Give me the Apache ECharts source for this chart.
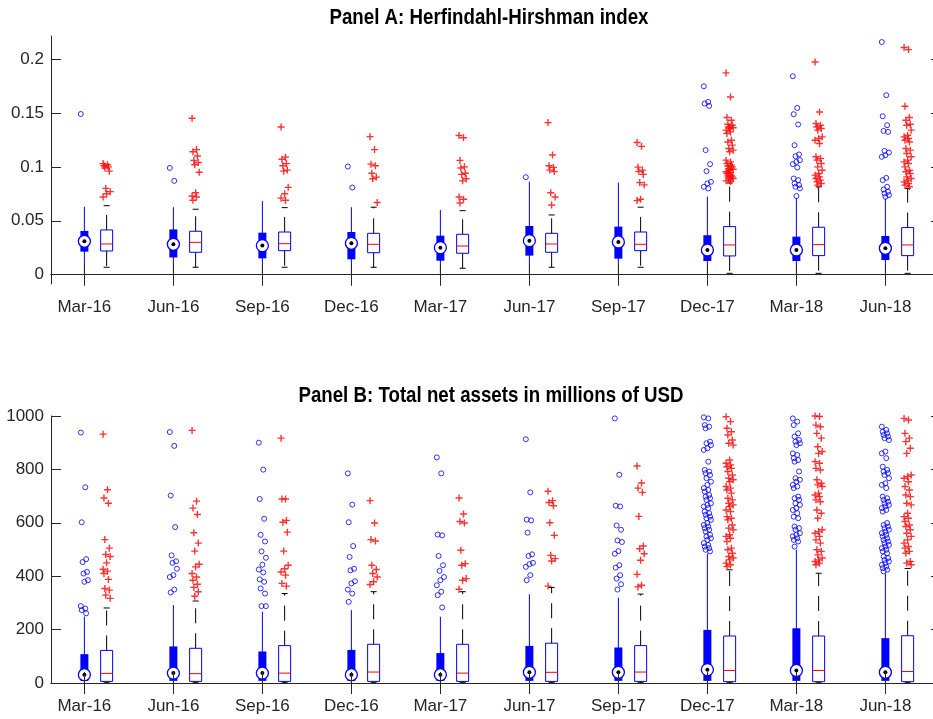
<!DOCTYPE html>
<html>
<head>
<meta charset="utf-8">
<script src="https://cdn.jsdelivr.net/npm/echarts@6.0.0/dist/echarts.min.js"></script>
<style>
  html, body { margin: 0; padding: 0; background: #fff; }
  #chart { width: 933px; height: 719px; }
</style>
</head>
<body>
<div id="chart"></div>
<script>
// Quarter labels shared by both panels
const categories = ['Mar-16', 'Jun-16', 'Sep-16', 'Dec-16', 'Mar-17', 'Jun-17', 'Sep-17', 'Dec-17', 'Mar-18', 'Jun-18'];

// Tick values
const hhiTicks = [0, 0.05, 0.1, 0.15, 0.2];
const tnaTicks = [0, 200, 400, 600, 800, 1000];

// ---- Panel A: Herfindahl-Hirshman index ----
// compact (filled) boxes
const hhiBlueLow  = [0.001, 0.001, 0.001, 0.001, 0.001, 0.001, 0.001, 0.001, 0.001, 0.001];
const hhiBlueQ1   = [0.0214, 0.0160, 0.0152, 0.0143, 0.0130, 0.0177, 0.0149, 0.0127, 0.0127, 0.0136];
const hhiBlueMed  = [0.0310, 0.0282, 0.0270, 0.0291, 0.0251, 0.0316, 0.0304, 0.0229, 0.0229, 0.0245];
const hhiBlueQ3   = [0.0406, 0.0420, 0.0390, 0.0396, 0.0362, 0.0452, 0.0446, 0.0366, 0.0353, 0.0359];
const hhiBlueHigh = [0.0630, 0.0626, 0.0684, 0.0626, 0.0600, 0.0863, 0.0854, 0.0724, 0.0710, 0.0705];
const hhiBlueOut = [
  [0.149],
  [0.099, 0.087],
  [],
  [0.1003, 0.0808],
  [],
  [0.0904],
  [],
  [0.1747, 0.1602, 0.1587, 0.1565, 0.1155, 0.1025, 0.0960, 0.0861, 0.0846, 0.0815, 0.0800],
  [0.1840, 0.1546, 0.1488, 0.1393, 0.1201, 0.1115, 0.1099, 0.1062, 0.1046, 0.1025, 0.0994, 0.0892, 0.0877, 0.0846, 0.0831, 0.0815, 0.0800, 0.0729],
  [0.2157, 0.1664, 0.1469, 0.1386, 0.1333, 0.1324, 0.1148, 0.1133, 0.1108, 0.1093, 0.0898, 0.0877, 0.0815, 0.0790, 0.0769, 0.0753, 0.0738, 0.0722]
];
// outlined boxes
const hhiRedLow  = [0.0069, 0.0069, 0.0069, 0.0069, 0.0060, 0.0069, 0.0069, 0.0013, 0.0013, 0.0013];
const hhiRedQ1   = [0.0220, 0.0208, 0.0223, 0.0204, 0.0199, 0.0208, 0.0223, 0.0174, 0.0177, 0.0177];
const hhiRedMed  = [0.0285, 0.0300, 0.0288, 0.0282, 0.0266, 0.0285, 0.0282, 0.0276, 0.0279, 0.0276];
const hhiRedQ3   = [0.0415, 0.0403, 0.0396, 0.0384, 0.0375, 0.0384, 0.0396, 0.0446, 0.0440, 0.0437];
const hhiRedHigh = [0.0640, 0.0607, 0.0622, 0.0626, 0.0594, 0.0554, 0.0626, 0.0850, 0.0815, 0.0800];
const hhiRedOut = [
  [0.103, 0.102, 0.101, 0.100, 0.099, 0.096, 0.080, 0.077, 0.075, 0.072],
  [0.145, 0.116, 0.114, 0.110, 0.106, 0.104, 0.102, 0.095, 0.076, 0.073, 0.072, 0.069],
  [0.137, 0.109, 0.107, 0.103, 0.101, 0.097, 0.096, 0.081, 0.075, 0.071, 0.069],
  [0.128, 0.116, 0.1025, 0.101, 0.094, 0.0905, 0.089, 0.067],
  [0.129, 0.127, 0.106, 0.100, 0.099, 0.094, 0.093, 0.089, 0.087, 0.072, 0.070, 0.0665],
  [0.141, 0.111, 0.101, 0.0995, 0.097, 0.0956, 0.076, 0.072, 0.0647],
  [0.1226, 0.119, 0.0997, 0.097, 0.0956, 0.093, 0.0854, 0.0833, 0.070, 0.0687],
  [0.1871, 0.1648, 0.1457, 0.1432, 0.1395, 0.1386, 0.1370, 0.1362, 0.1355, 0.1340, 0.1324, 0.1309, 0.1247, 0.1231, 0.1201, 0.1170, 0.1155, 0.1140,
   0.1062, 0.1046, 0.1031, 0.1016, 0.1008, 0.1000, 0.0985, 0.0978, 0.0969, 0.0954, 0.0946, 0.0939, 0.0923, 0.0915, 0.0907, 0.0898, 0.0892, 0.0877, 0.0870, 0.0861],
  [0.1972, 0.1509, 0.1402, 0.1386, 0.1370, 0.1355, 0.1340, 0.1278, 0.1263, 0.1247, 0.1216, 0.1093, 0.1078, 0.1062, 0.1031, 0.1000, 0.0969, 0.0939, 0.0923, 0.0907, 0.0892, 0.0877, 0.0861, 0.0846, 0.0831],
  [0.2106, 0.2087, 0.1562, 0.1457, 0.1432, 0.1395, 0.1386, 0.1340, 0.1293, 0.1278, 0.1263, 0.1247, 0.1231, 0.1170, 0.1155, 0.1124, 0.1093, 0.1062, 0.1046, 0.1031, 0.1000, 0.0969, 0.0954, 0.0939, 0.0907, 0.0892, 0.0877, 0.0861, 0.0846, 0.0831, 0.0815]
];

// ---- Panel B: Total net assets (millions of USD) ----
const tnaBlueLow  = [1, 1, 1, 1, 1, 1, 1, 1, 1, 1];
const tnaBlueQ1   = [8, 8, 8, 8, 8, 8, 8, 8, 8, 8];
const tnaBlueMed  = [31, 37, 37, 31, 31, 40, 40, 50, 47, 40];
const tnaBlueQ3   = [108, 137, 118, 124, 112, 139, 133, 199, 205, 168];
const tnaBlueHigh = [249, 292, 267, 273, 248, 332, 320, 485, 499, 410];
const tnaBlueOut = [
  [938, 733, 602, 464, 453, 416, 410, 385, 379, 288, 279, 273, 261],
  [940, 888, 702, 584, 478, 456, 450, 428, 404, 397, 350, 339],
  [900, 799, 689, 615, 555, 530, 493, 469, 443, 425, 414, 388, 379, 354, 335, 288, 288],
  [785, 668, 602, 513, 472, 428, 422, 381, 373, 350, 335, 304],
  [845, 785, 556, 553, 476, 441, 420, 397, 385, 366, 342, 329, 283],
  [913, 714, 612, 609, 563, 482, 476, 450, 445, 435, 404, 385],
  [991, 780, 664, 661, 590, 574, 534, 528, 494, 484, 441, 432, 404, 391, 370, 350],
  [995, 991, 966, 960, 954, 904, 898, 891, 879, 873, 829, 798, 792, 786, 779, 767, 754, 742, 730, 723, 717, 704, 698, 692, 686, 673,
   667, 661, 655, 642, 636, 630, 623, 617, 611, 599, 592, 586, 580, 574, 567, 555, 549, 542, 536, 524, 517, 511, 505, 499, 493],
  [991, 979, 966, 935, 923, 910, 904, 898, 891, 860, 854, 842, 835, 829, 792, 767, 761, 754, 742, 736, 730, 698, 692, 686, 673, 667,
   655, 648, 636, 623, 617, 586, 580, 574, 561, 555, 549, 542, 536, 530, 511],
  [960, 948, 941, 935, 929, 923, 917, 910, 867, 860, 842, 810, 798, 792, 786, 779, 767, 748, 742, 730, 698, 692, 686, 679, 673, 667,
   661, 655, 648, 642, 599, 592, 586, 580, 574, 567, 561, 555, 549, 542, 536, 530, 524, 517, 511, 505, 499, 493, 486, 474, 468, 461,
   455, 449, 443, 436, 430, 424, 418]
];
const tnaRedLow  = [1, 1, 1, 1, 1, 1, 1, 1, 1, 1];
const tnaRedQ1   = [6, 6, 6, 6, 6, 6, 6, 5, 5, 5];
const tnaRedMed  = [36, 35, 37, 41, 37, 40, 41, 47, 47, 43];
const tnaRedQ3   = [122, 130, 140, 145, 145, 149, 140, 176, 176, 177];
const tnaRedHigh = [281, 307, 335, 342, 342, 358, 333, 424, 411, 429];
const tnaRedOut = [
  [932, 724, 693, 673, 537, 505, 481, 474, 450, 426, 419, 410, 388, 354, 348, 329, 317],
  [946, 681, 655, 631, 563, 524, 494, 445, 435, 410, 397, 385, 370, 358, 342, 325],
  [917, 689, 689, 609, 602, 565, 494, 441, 428, 416, 404, 373, 363],
  [683, 599, 537, 532, 441, 425, 410, 397, 379, 369],
  [693, 633, 605, 599, 497, 447, 441, 391, 385, 351],
  [718, 683, 676, 664, 600, 553, 478, 466, 457, 363],
  [813, 749, 730, 714, 624, 513, 503, 484, 460, 407, 366, 360],
  [997, 979, 954, 941, 929, 910, 898, 891, 835, 823, 817, 810, 804, 792, 779, 767, 761, 754, 736, 730, 723, 711, 692, 686, 673, 667,
   661, 648, 642, 623, 617, 611, 592, 580, 574, 555, 549, 542, 530, 505, 499, 486, 474, 468, 461, 449, 443, 436],
  [1000, 998, 966, 960, 935, 917, 885, 867, 860, 829, 823, 804, 798, 761, 748, 742, 736, 711, 704, 698, 686, 679, 648, 636, 617, 574,
   567, 561, 549, 536, 524, 499, 493, 480, 468, 461, 455, 449, 443],
  [991, 985, 935, 917, 904, 879, 860, 779, 773, 767, 754, 736, 723, 704, 698, 673, 667, 636, 623, 617, 605, 592, 586, 574, 561, 549,
   536, 524, 511, 505, 493, 486, 455, 449, 443]
];

// ---- styling ----
const BLUE = '#0000ff';
const RED = '#ff0000';
const AXIS = '#262626';
const FONT = "'Liberation Sans', Arial, Helvetica, sans-serif";
const SHIFT = 0.25;          // horizontal offset of the outlined box in each pair
const TITLE_SQUEEZE = 0.85;  // titles are set in a slightly condensed face

// small deterministic spread of outlier markers around their box
const jitter = k => (((k * 5) % 9) - 4) * 0.01;

function boxRows(lo, q1, med, q3, hi, shift) {
  return categories.map((c, i) => [i + 1 + shift, lo[i], q1[i], med[i], q3[i], hi[i]]);
}
function outlierPoints(lists, shift) {
  const pts = [];
  lists.forEach((arr, i) => arr.forEach((v, k) => pts.push([i + 1 + shift + jitter(k), v])));
  return pts;
}

function pick(api) {
  const x = api.value(0);
  const y = k => api.coord([x, api.value(k)])[1];
  return { cx: api.coord([x, api.value(3)])[0], lo: y(1), q1: y(2), med: y(3), q3: y(4), hi: y(5) };
}

// compact style: thin whisker, thick box, circled median
function renderCompact(params, api) {
  const p = pick(api);
  return {
    type: 'group',
    children: [
      { type: 'line', shape: { x1: p.cx, y1: p.lo, x2: p.cx, y2: p.hi }, style: { stroke: BLUE, lineWidth: 1 } },
      { type: 'rect', shape: { x: p.cx - 4, y: p.q3, width: 8, height: p.q1 - p.q3 }, style: { fill: BLUE } },
      { type: 'circle', shape: { cx: p.cx, cy: p.med, r: 6 }, style: { fill: '#fff', stroke: BLUE, lineWidth: 1.3 } },
      { type: 'circle', shape: { cx: p.cx, cy: p.med, r: 2 }, style: { fill: '#000' } }
    ]
  };
}

// outlined style: open box, red median, dashed whiskers with caps
function renderClassic(params, api) {
  const p = pick(api);
  const w = 6, c = 3;
  return {
    type: 'group',
    children: [
      { type: 'line', shape: { x1: p.cx, y1: p.q3, x2: p.cx, y2: p.hi }, style: { stroke: '#000', lineWidth: 1, lineDash: [15, 10] } },
      { type: 'line', shape: { x1: p.cx, y1: p.q1, x2: p.cx, y2: p.lo }, style: { stroke: '#000', lineWidth: 1, lineDash: [15, 10] } },
      { type: 'line', shape: { x1: p.cx - c, y1: p.hi, x2: p.cx + c, y2: p.hi }, style: { stroke: '#000', lineWidth: 1 } },
      { type: 'line', shape: { x1: p.cx - c, y1: p.lo, x2: p.cx + c, y2: p.lo }, style: { stroke: '#000', lineWidth: 1 } },
      { type: 'rect', shape: { x: p.cx - w, y: p.q3, width: 2 * w, height: p.q1 - p.q3 }, style: { fill: 'none', stroke: BLUE, lineWidth: 1 } },
      { type: 'line', shape: { x1: p.cx - w, y1: p.med, x2: p.cx + w, y2: p.med }, style: { stroke: RED, lineWidth: 1 } }
    ]
  };
}

const PLUS = 'path://M0,4H10V6H0ZM4,0H6V10H4Z';

function xAxisPair(gridIndex) {
  const common = {
    type: 'value', gridIndex, min: 0.625, max: 10.625, z: 3,
    splitLine: { show: false },
    axisLine: { show: true, lineStyle: { color: AXIS, width: 1 } },
    axisTick: { show: true, inside: true, length: 11, lineStyle: { color: AXIS, width: 1 }, customValues: categories.map((c, i) => i + 1) }
  };
  return [
    Object.assign({}, common, {
      position: 'bottom',
      axisLabel: {
        show: true, margin: 15, color: AXIS, fontFamily: FONT, fontSize: 17,
        customValues: categories.map((c, i) => i + 1),
        formatter: v => categories[Math.round(v) - 1]
      }
    }),
    Object.assign({}, common, { position: 'top', axisLabel: { show: false } })
  ];
}

function yAxisPair(gridIndex, min, max, ticks) {
  const common = {
    type: 'value', gridIndex, min, max, z: 3,
    splitLine: { show: false },
    axisLine: { show: true, lineStyle: { color: AXIS, width: 1 } },
    axisTick: { show: true, inside: true, length: 10, lineStyle: { color: AXIS, width: 1 }, customValues: ticks }
  };
  return [
    Object.assign({}, common, {
      position: 'left',
      axisLabel: { show: true, margin: 7, color: AXIS, fontFamily: FONT, fontSize: 17, customValues: ticks, formatter: v => String(v) }
    }),
    Object.assign({}, common, { position: 'right', axisLabel: { show: false } })
  ];
}

function panelSeries(axisIdx, blue, red, blueOut, redOut) {
  return [
    {
      type: 'custom', xAxisIndex: axisIdx, yAxisIndex: axisIdx, renderItem: renderCompact,
      encode: { x: 0, y: [1, 2, 3, 4, 5] }, data: blue, silent: true
    },
    {
      type: 'custom', xAxisIndex: axisIdx, yAxisIndex: axisIdx, renderItem: renderClassic,
      encode: { x: 0, y: [1, 2, 3, 4, 5] }, data: red, silent: true
    },
    {
      type: 'scatter', xAxisIndex: axisIdx, yAxisIndex: axisIdx, symbol: 'circle', symbolSize: 5,
      itemStyle: { color: 'rgba(0,0,0,0)', borderColor: BLUE, borderWidth: 1 },
      data: blueOut, silent: true, animation: false
    },
    {
      type: 'scatter', xAxisIndex: axisIdx, yAxisIndex: axisIdx, symbol: PLUS, symbolSize: 7,
      itemStyle: { color: RED }, data: redOut, silent: true, animation: false
    }
  ];
}

function panelTitle(text, x, y) {
  return {
    type: 'text', x, y, scaleX: TITLE_SQUEEZE, scaleY: 1,
    style: { text, fontFamily: FONT, fontWeight: 'bold', fontSize: 22, fill: '#000', textAlign: 'center', textVerticalAlign: 'top' }
  };
}

const chart = echarts.init(document.getElementById('chart'), null, { renderer: 'canvas' });

chart.setOption({
  animation: false,
  backgroundColor: '#fff',
  grid: [
    { left: 51, top: 36, width: 890, height: 248, outerBoundsMode: 'none' },
    { left: 51, top: 416, width: 890, height: 267, outerBoundsMode: 'none' }
  ],
  xAxis: [...xAxisPair(0), ...xAxisPair(1)],
  yAxis: [...yAxisPair(0, -0.0086, 0.2213, hhiTicks), ...yAxisPair(1, 0, 1000, tnaTicks)],
  graphic: [
    panelTitle('Panel A: Herfindahl-Hirshman index', 489, 7),
    panelTitle('Panel B: Total net assets in millions of USD', 491, 385)
  ],
  series: [
    ...panelSeries(0,
      boxRows(hhiBlueLow, hhiBlueQ1, hhiBlueMed, hhiBlueQ3, hhiBlueHigh, 0),
      boxRows(hhiRedLow, hhiRedQ1, hhiRedMed, hhiRedQ3, hhiRedHigh, SHIFT),
      outlierPoints(hhiBlueOut, 0), outlierPoints(hhiRedOut, SHIFT)),
    ...panelSeries(2,
      boxRows(tnaBlueLow, tnaBlueQ1, tnaBlueMed, tnaBlueQ3, tnaBlueHigh, 0),
      boxRows(tnaRedLow, tnaRedQ1, tnaRedMed, tnaRedQ3, tnaRedHigh, SHIFT),
      outlierPoints(tnaBlueOut, 0), outlierPoints(tnaRedOut, SHIFT))
  ]
});
</script>
</body>
</html>
